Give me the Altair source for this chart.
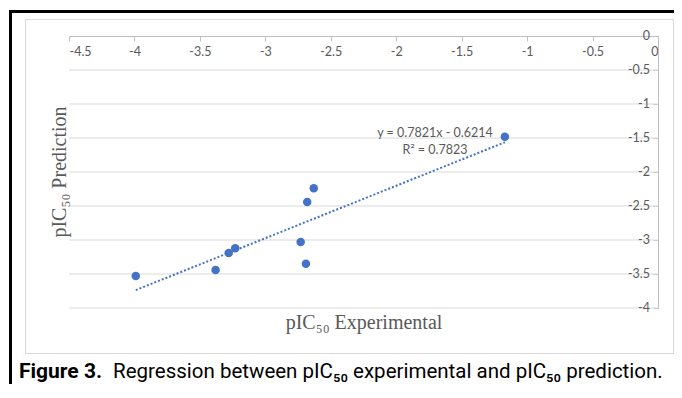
import altair as alt
import pandas as pd

# ---- data ----
x_exp = [-3.99, -3.38, -3.28, -3.23, -2.73, -2.69, -2.68, -2.63, -1.17]
y_pred = [-3.53, -3.44, -3.19, -3.12, -3.03, -3.35, -2.44, -2.24, -1.48]
x_ticks = [-4.5, -4, -3.5, -3, -2.5, -2, -1.5, -1, -0.5, 0]
y_ticks = [-4, -3.5, -3, -2.5, -2, -1.5, -1, -0.5, 0]
y_tick_labels = ["-4", "-3.5", "-3", "-2.5", "-2", "-1.5", "-1", "-0.5", "0"]
grid_vals = [-4, -3.5, -3, -2.5, -2, -1.5, -1, -0.5]
eq_text = "y = 0.7821x - 0.6214"
r2_text = "R² = 0.7823"
x_title = "pIC₅₀ Experimental"
y_title = "pIC₅₀ Prediction"
cap_bold = "Figure 3."
cap_rest = "Regression between pIC₅₀ experimental and pIC₅₀ prediction."

df = pd.DataFrame({"x": x_exp, "y": y_pred})
grid_df = pd.DataFrame({"g": grid_vals})
ylab_df = pd.DataFrame({"v": y_ticks, "lab": y_tick_labels})

W, H = 589, 272
BLUE = "#4472C4"
GREY_TXT = "#595959"
AX = "#bfbfbf"

xscale = alt.Scale(domain=[-4.5, 0], nice=False, zero=False)
yscale = alt.Scale(domain=[-4, 0], nice=False, zero=False)

x_axis = alt.Axis(orient="bottom", offset=-H, values=x_ticks, grid=False,
                  labelExpr="toString(datum.value)", title=None, labelOverlap=False,
                  domainColor=AX, tickColor=AX, tickSize=5, labelPadding=4,
                  labelColor=GREY_TXT, labelFont="Lato", labelFontSize=12.5)
y_axis = alt.Axis(orient="left", offset=-W, values=y_ticks, grid=False,
                  labels=False, title=None,
                  domainColor=AX, tickColor=AX, tickSize=5)

base = alt.Chart(df)

# frames (pixel positions relative to plot area)
outer_left = base.mark_rule(color="black", strokeWidth=3).encode(
    x=alt.value(-58.5), y=alt.value(-26), y2=alt.value(400))
outer_top = base.mark_rule(color="black", strokeWidth=3).encode(
    x=alt.value(-60), x2=alt.value(700), y=alt.value(-24.5))
inner = base.mark_rect(fillOpacity=0, stroke="#d9d9d9", strokeWidth=1).encode(
    x=alt.value(-43.5), x2=alt.value(604.5), y=alt.value(-16.5), y2=alt.value(317.5))

grid = alt.Chart(grid_df).mark_rule(color="#d9d9d9", strokeWidth=1).encode(
    y=alt.Y("g:Q", scale=yscale, axis=y_axis))

ylabels = alt.Chart(ylab_df).mark_text(
    align="right", baseline="middle", font="Lato", fontSize=12.5, color=GREY_TXT).encode(
    y=alt.Y("v:Q", scale=yscale, axis=y_axis), x=alt.value(W - 8), text="lab:N")

points = base.mark_circle(size=72, color=BLUE, opacity=1).encode(
    x=alt.X("x:Q", scale=xscale, axis=x_axis),
    y=alt.Y("y:Q", scale=yscale, axis=y_axis))

trend = base.transform_regression("x", "y").mark_line(
    color=BLUE, strokeWidth=2, strokeDash=[2, 2]).encode(
    x=alt.X("x:Q", scale=xscale, axis=x_axis), y=alt.Y("y:Q", scale=yscale, axis=y_axis))

def label(text, x, y, **kw):
    return alt.Chart(pd.DataFrame({"t": [text]})).mark_text(**kw).encode(
        text="t:N", x=alt.value(x), y=alt.value(y))

eq = label(eq_text, 366, 97, font="Lato", fontSize=12.5, color=GREY_TXT)
r2 = label(r2_text, 366, 114, font="Lato", fontSize=12.5, color=GREY_TXT)
xt = label(x_title, 295, 287, font="Liberation Serif", fontSize=20, color=GREY_TXT)
yt = label(y_title, -9, 136, font="Liberation Serif", fontSize=20, color=GREY_TXT, angle=270)
cb = label(cap_bold, -50, 342, font="Roboto", fontSize=21, fontWeight="bold",
           color="black", align="left", baseline="alphabetic")
cr = label(cap_rest, 44, 342, font="Roboto", fontSize=20.5,
           color="black", align="left", baseline="alphabetic")

chart = alt.layer(inner, outer_left, outer_top, grid, ylabels, trend, points,
                  eq, r2, xt, yt, cb, cr).properties(
    width=W, height=H,
    autosize=alt.AutoSizeParams(type="none"),
    padding={"left": 61, "top": 28, "right": 16, "bottom": 76},
    background="white",
).configure_view(stroke=None)

chart.save("out.html", embed_options={"renderer": "svg", "actions": False})
